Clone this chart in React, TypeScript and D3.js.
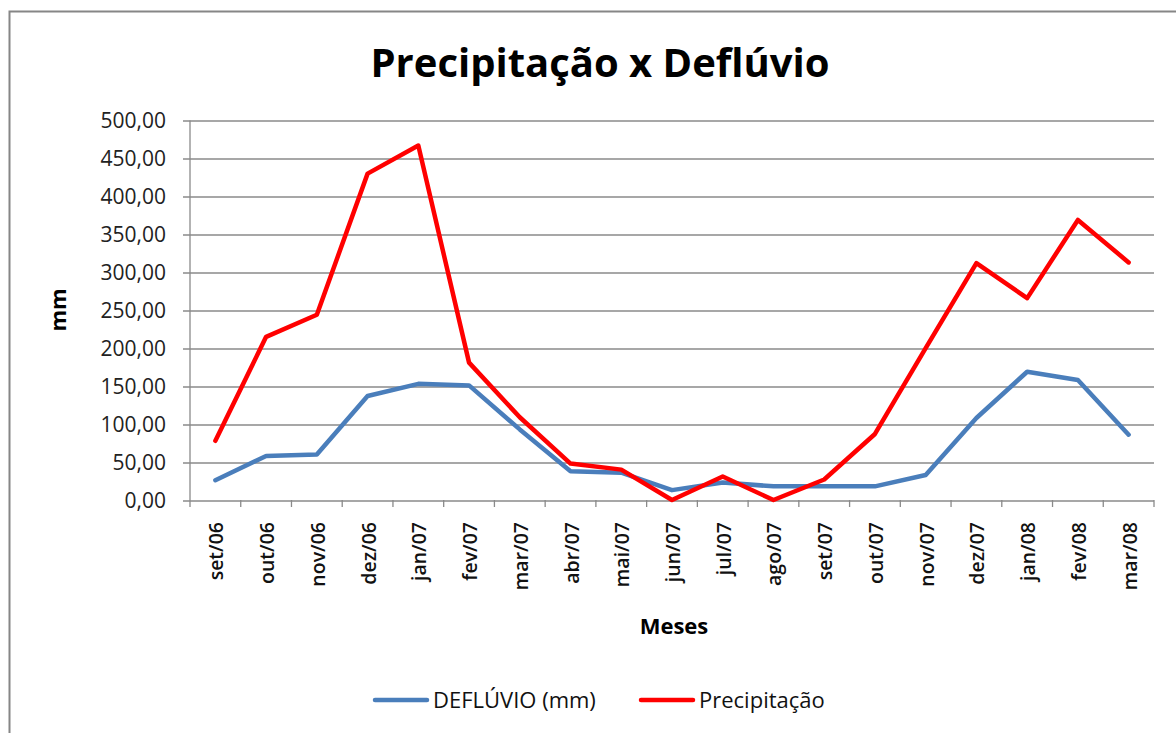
import { useEffect, useRef } from "react";
import * as d3 from "d3";

const meses = [
  "set/06", "out/06", "nov/06", "dez/06", "jan/07", "fev/07", "mar/07", "abr/07", "mai/07", "jun/07",
  "jul/07", "ago/07", "set/07", "out/07", "nov/07", "dez/07", "jan/08", "fev/08", "mar/08",
];
const deflúvio = [26, 58, 60, 137, 153, 151, 93, 38, 36, 13, 23, 18, 18, 18, 33, 108, 169, 158, 86];
const precipitacao = [78, 215, 244, 430, 467, 181, 109, 48, 40, 0, 31, 0, 27, 87, 200, 312, 266, 369, 313];
const yTicks = [0, 50, 100, 150, 200, 250, 300, 350, 400, 450, 500];

const W = 1176;
const H = 733;
const margin = { top: 120.5, right: 22, bottom: 233, left: 190 };
const font = "'Open Sans', 'DejaVu Sans', sans-serif";

const App = () => {
  const ref = useRef<SVGSVGElement>(null);

  useEffect(() => {
    const svg = d3.select(ref.current);
    svg.selectAll("*").remove();

    const innerW = W - margin.left - margin.right;
    const innerH = H - margin.top - margin.bottom;

    const x = d3.scaleBand().domain(meses).range([0, innerW]);
    const y = d3.scaleLinear().domain([0, 500]).range([innerH, 0]);

    // chart border
    svg.append("rect")
      .attr("x", 9.5).attr("y", 11.5)
      .attr("width", W + 20).attr("height", H + 20)
      .attr("fill", "white").attr("stroke", "#868686").attr("stroke-width", 2);

    svg.append("text")
      .attr("x", 600).attr("y", 77)
      .attr("text-anchor", "middle")
      .style("font-family", font).style("font-weight", 700).style("font-size", "40px")
      .attr("fill", "#000")
      .text("Precipitação x Deflúvio");

    const g = svg.append("g").attr("transform", `translate(${margin.left},${margin.top})`);

    // gridlines
    g.selectAll("line.grid").data(yTicks).enter().append("line")
      .attr("x1", -7).attr("x2", innerW)
      .attr("y1", (d) => Math.round(y(d)) + 0.5).attr("y2", (d) => Math.round(y(d)) + 0.5)
      .attr("stroke", "#8a8a8a").attr("stroke-width", 1.3);

    g.selectAll("text.ytick").data(yTicks).enter().append("text")
      .attr("x", -24).attr("y", (d) => y(d) + 7.5)
      .attr("text-anchor", "end")
      .style("font-family", font).style("font-size", "21px")
      .attr("fill", "#222")
      .text((d) => d3.format(".2f")(d).replace(".", ","));

    // y axis
    g.append("line")
      .attr("x1", 0).attr("x2", 0).attr("y1", 0).attr("y2", innerH)
      .attr("stroke", "#8a8a8a").attr("stroke-width", 1.3);

    // x axis ticks between categories
    const bounds = meses.map((m) => x(m)!).concat([innerW]);
    g.selectAll("line.xtick").data(bounds).enter().append("line")
      .attr("x1", (d) => d).attr("x2", (d) => d)
      .attr("y1", innerH).attr("y2", innerH + 7)
      .attr("stroke", "#8a8a8a").attr("stroke-width", 1.3);

    g.selectAll("text.xlab").data(meses).enter().append("text")
      .attr("transform", (d) => `translate(${x(d)! + x.bandwidth() / 2 + 8},${innerH + 22}) rotate(-90)`)
      .attr("text-anchor", "end")
      .style("font-family", font).style("font-size", "19.5px").style("font-weight", 600)
      .attr("fill", "#111")
      .text((d) => d);

    const line = (vals: number[]) =>
      d3.line<number>()
        .x((_, i) => x(meses[i])! + x.bandwidth() / 2)
        .y((d) => y(d))(vals);

    g.append("path")
      .attr("d", line(deflúvio))
      .attr("fill", "none").attr("stroke", "#4A7EBB").attr("stroke-width", 4.5)
      .attr("stroke-linejoin", "round").attr("stroke-linecap", "round");

    g.append("path")
      .attr("d", line(precipitacao))
      .attr("fill", "none").attr("stroke", "#FF0000").attr("stroke-width", 4.5)
      .attr("stroke-linejoin", "round").attr("stroke-linecap", "round");

    // axis titles
    svg.append("text")
      .attr("x", 674).attr("y", 634)
      .attr("text-anchor", "middle")
      .style("font-family", font).style("font-weight", 700).style("font-size", "22px")
      .attr("fill", "#000")
      .text("Meses");

    svg.append("text")
      .attr("transform", `translate(66,310) rotate(-90)`)
      .attr("text-anchor", "middle")
      .style("font-family", font).style("font-weight", 700).style("font-size", "22px")
      .attr("fill", "#000")
      .text("mm");

    // legend
    const legend = [
      { label: "DEFLÚVIO (mm)", color: "#4A7EBB", x: 375 },
      { label: "Precipitação", color: "#FF0000", x: 641 },
    ];
    const lg = svg.selectAll("g.leg").data(legend).enter().append("g")
      .attr("transform", (d) => `translate(${d.x},700)`);
    lg.append("line")
      .attr("x1", 0).attr("x2", 52).attr("y1", 0).attr("y2", 0)
      .attr("stroke", (d) => d.color).attr("stroke-width", 4.5).attr("stroke-linecap", "round");
    lg.append("text")
      .attr("x", 58).attr("y", 8)
      .style("font-family", font).style("font-size", "22px")
      .attr("fill", "#111")
      .text((d) => d.label);
  }, []);

  return <svg ref={ref} width={W} height={H} style={{ display: "block", position: "absolute", left: 0, top: 0 }} />;
};

export default App;
